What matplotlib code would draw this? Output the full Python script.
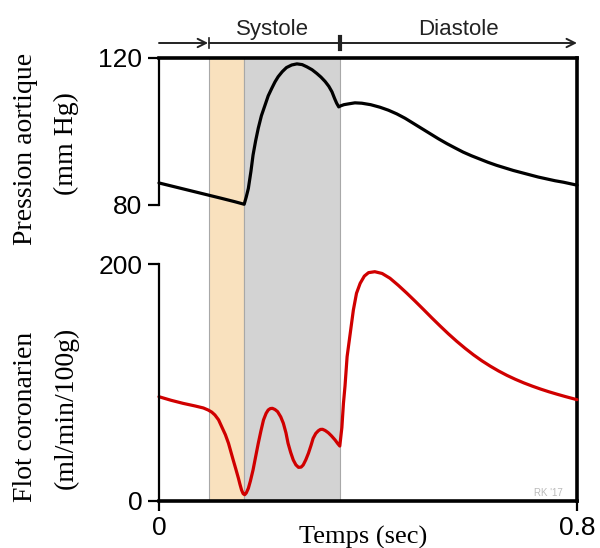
import matplotlib
matplotlib.use("Agg")
import matplotlib.pyplot as plt
from matplotlib.transforms import blended_transform_factory

# ---------------- data ----------------
t_pressure = [0.000, 0.040, 0.080, 0.120, 0.145, 0.163, 0.167, 0.171, 0.176, 0.180,
              0.185, 0.190, 0.196, 0.203, 0.209, 0.216, 0.222, 0.228, 0.236, 0.244,
              0.254, 0.264, 0.274, 0.283, 0.293, 0.302, 0.310, 0.318, 0.325, 0.331,
              0.336, 0.340, 0.344, 0.348, 0.354, 0.362, 0.375, 0.388, 0.405, 0.423,
              0.439, 0.455, 0.471, 0.487, 0.503, 0.519, 0.535, 0.551, 0.567, 0.582,
              0.598, 0.614, 0.630, 0.646, 0.662, 0.678, 0.694, 0.710, 0.726, 0.742,
              0.758, 0.774, 0.787, 0.800]
pressure = [86.0, 84.6, 83.2, 81.8, 80.9, 80.2, 82.2, 84.5, 89.2, 93.6,
            97.5, 100.9, 104.3, 107.2, 109.7, 111.8, 113.5, 114.9, 116.3, 117.4,
            118.1, 118.4, 118.2, 117.6, 116.8, 115.8, 114.8, 113.6, 112.3, 110.8,
            109.0, 107.7, 106.7, 107.0, 107.3, 107.5, 107.8, 107.7, 107.3, 106.6,
            105.8, 104.8, 103.6, 102.2, 100.8, 99.4, 98.0, 96.7, 95.5, 94.4,
            93.4, 92.5, 91.6, 90.8, 90.1, 89.4, 88.8, 88.2, 87.6, 87.1,
            86.6, 86.2, 85.8, 85.4]

t_flow = [0.000, 0.023, 0.046, 0.069, 0.085, 0.094, 0.101, 0.107, 0.114, 0.120,
          0.127, 0.133, 0.142, 0.147, 0.152, 0.155, 0.158, 0.161, 0.164, 0.167,
          0.171, 0.175, 0.180, 0.185, 0.190, 0.195, 0.200, 0.205, 0.209, 0.213,
          0.217, 0.222, 0.227, 0.233, 0.238, 0.243, 0.247, 0.252, 0.257, 0.262,
          0.267, 0.272, 0.276, 0.281, 0.286, 0.291, 0.295, 0.300, 0.305, 0.309,
          0.313, 0.318, 0.324, 0.330, 0.337, 0.342, 0.346, 0.350, 0.353, 0.356,
          0.360, 0.366, 0.372, 0.378, 0.385, 0.393, 0.401, 0.413, 0.427, 0.442,
          0.458, 0.474, 0.490, 0.506, 0.522, 0.538, 0.554, 0.570, 0.586, 0.602,
          0.618, 0.634, 0.650, 0.666, 0.682, 0.698, 0.714, 0.730, 0.746, 0.762,
          0.778, 0.800]
flow = [88.0, 85.0, 82.4, 80.2, 78.5, 76.8, 75.0, 72.6, 68.5, 62.7,
        56.0, 48.7, 34.6, 27.0, 19.2, 14.0, 9.3, 6.2, 5.3, 6.8,
        10.7, 17.0, 26.2, 37.5, 48.7, 59.0, 68.4, 74.0, 76.8, 78.0,
        78.2, 77.2, 75.4, 71.0, 65.6, 57.5, 48.7, 41.0, 34.6, 30.5,
        28.4, 28.6, 30.4, 34.8, 40.3, 47.0, 52.9, 57.0, 59.3, 60.4,
        60.5, 59.5, 57.6, 55.0, 51.5, 48.5, 46.4, 62.0, 82.4, 97.0,
        121.8, 141.5, 161.2, 175.3, 183.7, 189.8, 192.7, 193.5, 192.0, 188.0,
        182.0, 175.5, 168.7, 161.7, 154.6, 147.7, 141.0, 134.7, 128.8, 123.3,
        118.3, 113.8, 109.7, 106.0, 102.7, 99.7, 97.0, 94.5, 92.2, 90.1,
        88.1, 85.5]

phase_bounds = [0.096, 0.163, 0.346]   # start contraction, start ejection, end systole
phase_labels = ["Systole", "Diastole"]
pressure_ticks = [80, 120]
flow_ticks = [0, 200]
time_ticks = [0, 0.8]
time_ticklabels = ["0", "0.8"]

# ---------------- layout ----------------
W, H = 600, 548
fig = plt.figure(figsize=(W / 100, H / 100), dpi=100)

def fx(px):
    return px / W

def fy(py):
    return 1 - py / H

L, R = 159, 577
T1, B1 = 58, 205
T2, B2 = 264, 501

sans = ["Liberation Sans", "DejaVu Sans"]
serif = ["Liberation Serif", "DejaVu Serif"]

# background axes for shading and right border
axbg = fig.add_axes([fx(L), fy(B2), fx(R) - fx(L), fy(T1) - fy(B2)], zorder=0)
axbg.set_xlim(0, 0.8)
axbg.set_ylim(0, 1)
axbg.axis("off")
axbg.axvspan(phase_bounds[0], phase_bounds[1], facecolor="#F9E1BE",
             edgecolor="#A8A8A8", lw=0.8)
axbg.axvspan(phase_bounds[1], phase_bounds[2], facecolor="#D3D3D3",
             edgecolor="#A8A8A8", lw=0.8)
axbg.axvline(0.8, color="black", lw=2.6, clip_on=False)

# top axes: aortic pressure
ax1 = fig.add_axes([fx(L), fy(B1), fx(R) - fx(L), fy(T1) - fy(B1)], zorder=2)
ax1.patch.set_alpha(0)
ax1.plot(t_pressure, pressure, color="black", lw=2.3, solid_joinstyle="round",
         solid_capstyle="round", clip_on=False)
ax1.set_xlim(0, 0.8)
ax1.set_ylim(80, 120)
ax1.set_yticks(pressure_ticks)
ax1.set_xticks([])
for s in ["bottom", "right"]:
    ax1.spines[s].set_visible(False)
ax1.spines["left"].set_linewidth(1.6)
ax1.spines["top"].set_linewidth(2.6)
ax1.tick_params(axis="y", length=8, width=1.6, pad=4, labelsize=19)
for lab in ax1.get_yticklabels():
    lab.set_family(sans)

# bottom axes: coronary flow
ax2 = fig.add_axes([fx(L), fy(B2), fx(R) - fx(L), fy(T2) - fy(B2)], zorder=2)
ax2.patch.set_alpha(0)
ax2.plot(t_flow, flow, color="#D00000", lw=2.3, solid_joinstyle="round",
         solid_capstyle="round", clip_on=False)
ax2.set_xlim(0, 0.8)
ax2.set_ylim(0, 200)
ax2.set_yticks(flow_ticks)
ax2.set_xticks(time_ticks)
ax2.set_xticklabels(time_ticklabels)
for s in ["top", "right"]:
    ax2.spines[s].set_visible(False)
ax2.spines["left"].set_linewidth(1.6)
ax2.spines["bottom"].set_linewidth(2.6)
ax2.tick_params(axis="y", length=8, width=1.6, pad=4, labelsize=19)
ax2.tick_params(axis="x", length=7, width=1.6, pad=4, labelsize=19)
for lab in ax2.get_yticklabels() + ax2.get_xticklabels():
    lab.set_family(sans)

# phase arrows on top
tr = blended_transform_factory(axbg.transData, fig.transFigure)
ya = fy(43)
astyle = "->,head_length=0.6,head_width=0.3"
axbg.annotate("", xy=(phase_bounds[0] - 0.002, ya), xytext=(0, ya),
              xycoords=tr, textcoords=tr,
              arrowprops=dict(arrowstyle=astyle, lw=1.4, color="#222222",
                              shrinkA=0, shrinkB=0))
axbg.annotate("", xy=(0.8, ya), xytext=(phase_bounds[0], ya),
              xycoords=tr, textcoords=tr,
              arrowprops=dict(arrowstyle=astyle, lw=1.4, color="#222222",
                              shrinkA=0, shrinkB=0))
axbg.plot([phase_bounds[0], phase_bounds[0]], [fy(38), fy(48)], transform=tr,
          color="#222222", lw=1.2, clip_on=False)
axbg.plot([phase_bounds[2], phase_bounds[2]], [fy(37), fy(49)], transform=tr,
          color="#222222", lw=3, clip_on=False)
axbg.text(0.218, fy(35), phase_labels[0],
          transform=tr, ha="center", va="baseline", fontsize=16,
          family=sans, color="#222222")
axbg.text(0.574, fy(35), phase_labels[1], transform=tr, ha="center",
          va="baseline", fontsize=16, family=sans, color="#222222")

# axis labels
fig.text(fx(26), fy(149), "Pression aortique", rotation=90, ha="center",
         va="center", fontsize=20, family=serif)
fig.text(fx(66), fy(144), "(mm Hg)", rotation=90, ha="center",
         va="center", fontsize=20, family=serif)
fig.text(fx(26), fy(417), "Flot coronarien", rotation=90, ha="center",
         va="center", fontsize=20, family=serif)
fig.text(fx(66), fy(408), "(ml/min/100g)", rotation=90, ha="center",
         va="center", fontsize=20, family=serif)
fig.text(fx(363), fy(544), "Temps (sec)", ha="center", va="baseline",
         fontsize=19, family=serif)

# watermark
fig.text(fx(548), fy(493), "RK '17", ha="center", va="center", fontsize=7,
         color="#BBBBBB", family=sans)

fig.savefig("out.png", dpi=100)
